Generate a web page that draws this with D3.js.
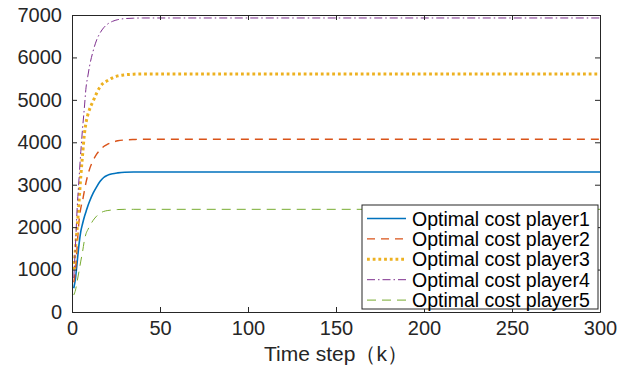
<!DOCTYPE html>
<html>
<head>
<meta charset="utf-8">
<script src="https://cdn.jsdelivr.net/npm/d3@7"></script>
<style>
  body { margin: 0; background: #fff; }
  svg { display: block; font-family: "Liberation Sans", Arial, sans-serif; }
</style>
</head>
<body>
<div id="chart"></div>
<script>
var steps = [1, 2, 3, 4, 5, 6, 7, 8, 9, 10, 12, 14, 16, 18, 20, 23, 26, 30, 35, 40, 50, 300];

var player1 = [560, 800, 1200, 1600, 1900, 2080, 2240, 2370, 2500, 2610, 2800, 2950, 3080, 3170, 3220, 3260, 3280, 3295, 3300, 3300, 3300, 3300];
var player2 = [700, 1000, 1600, 2150, 2450, 2620, 2850, 3060, 3230, 3370, 3570, 3720, 3820, 3900, 3950, 4000, 4035, 4055, 4065, 4070, 4070, 4070];
var player3 = [1000, 1500, 2010, 2600, 3200, 3700, 4180, 4470, 4650, 4780, 4970, 5160, 5310, 5400, 5450, 5520, 5565, 5590, 5605, 5610, 5610, 5610];
var player4 = [800, 1600, 2500, 3150, 3780, 4330, 4800, 5300, 5560, 5800, 6150, 6410, 6580, 6700, 6780, 6850, 6890, 6915, 6925, 6930, 6930, 6930];
var player5 = [400, 520, 740, 960, 1200, 1420, 1680, 1850, 1940, 2020, 2160, 2260, 2330, 2370, 2390, 2405, 2415, 2420, 2420, 2420, 2420, 2420];

var seriesNames = ["Optimal cost player1", "Optimal cost player2", "Optimal cost player3", "Optimal cost player4", "Optimal cost player5"];
var xTicks = [0, 50, 100, 150, 200, 250, 300];
var yTicks = [0, 1000, 2000, 3000, 4000, 5000, 6000, 7000];

var styles = [
  {color: "#0072BD", width: 1.6, dash: null},
  {color: "#D95319", width: 1.4, dash: "8,6"},
  {color: "#EDB120", width: 3, dash: "2.8,2.9"},
  {color: "#7E2F8E", width: 1, dash: "8,3,1.5,3"},
  {color: "#77AC30", width: 1, dash: "9,6"}
];

var allSeries = [player1, player2, player3, player4, player5];

var W = 632, H = 367;
var margin = {top: 15, right: 32, bottom: 55, left: 72};
var width = W - margin.left - margin.right;
var height = H - margin.top - margin.bottom;

var svg = d3.select("#chart").append("svg")
  .attr("width", W)
  .attr("height", H);

var x = d3.scaleLinear().domain([0, 300]).range([0, width]);
var y = d3.scaleLinear().domain([0, 7000]).range([height, 0]);

var main = svg.append("g")
  .attr("transform", "translate(" + margin.left + "," + margin.top + ")");

var defs = svg.append("defs");
defs.append("clipPath").attr("id", "clip")
  .append("rect").attr("width", width).attr("height", height);

// lines
var line = d3.line()
  .x(function(d) { return x(d[0]); })
  .y(function(d) { return y(d[1]); })
  .curve(d3.curveMonotoneX);

var lines = main.append("g").attr("clip-path", "url(#clip)");
allSeries.forEach(function(vals, i) {
  var pts = steps.map(function(t, j) { return [t, vals[j]]; });
  lines.append("path")
    .datum(pts)
    .attr("fill", "none")
    .attr("stroke", styles[i].color)
    .attr("stroke-width", styles[i].width)
    .attr("stroke-dasharray", styles[i].dash)
    .attr("d", line);
});

// axes (matlab style, ticks inside, box on)
var axisColor = "#262626";
var tickLen = 5;
var fmt = d3.format("d");

var xAxis = d3.axisBottom(x).tickValues(xTicks).tickFormat(fmt).tickSizeInner(-tickLen).tickSizeOuter(0).tickPadding(11);
var gx = main.append("g").attr("transform", "translate(0," + height + ")").call(xAxis);
var xTop = d3.axisTop(x).tickValues(xTicks).tickSizeInner(-tickLen).tickSizeOuter(0).tickFormat("");
var gxt = main.append("g").call(xTop);

var yAxis = d3.axisLeft(y).tickValues(yTicks).tickFormat(fmt).tickSizeInner(-tickLen).tickSizeOuter(0).tickPadding(10);
var gy = main.append("g").call(yAxis);
var yRight = d3.axisRight(y).tickValues(yTicks).tickSizeInner(-tickLen).tickSizeOuter(0).tickFormat("");
var gyr = main.append("g").attr("transform", "translate(" + width + ",0)").call(yRight);

[gx, gxt, gy, gyr].forEach(function(g) {
  g.select(".domain").attr("stroke", axisColor);
  g.selectAll(".tick line").attr("stroke", axisColor);
  g.selectAll(".tick text")
    .attr("fill", axisColor)
    .style("font-size", "20px")
    .style("font-family", "Liberation Sans, Arial, sans-serif");
});
gx.selectAll(".tick text").attr("dy", "0.6em");

// x label
svg.append("text")
  .attr("x", margin.left + width / 2)
  .attr("y", 361)
  .attr("text-anchor", "middle")
  .attr("fill", axisColor)
  .style("font-size", "21px")
  .text("Time step（k）");

// legend
var lx = 362, ly = 205, lw = 236, lh = 104;
var legend = svg.append("g");
legend.append("rect")
  .attr("x", lx).attr("y", ly)
  .attr("width", lw).attr("height", lh)
  .attr("fill", "#fff")
  .attr("stroke", axisColor)
  .attr("stroke-width", 1);

seriesNames.forEach(function(name, i) {
  var cy = ly + 13.5 + i * 20.4;
  legend.append("line")
    .attr("x1", lx + 5).attr("x2", lx + 44)
    .attr("y1", cy).attr("y2", cy)
    .attr("stroke", styles[i].color)
    .attr("stroke-width", styles[i].width)
    .attr("stroke-dasharray", styles[i].dash);
  legend.append("text")
    .attr("x", lx + 50)
    .attr("y", cy)
    .attr("dy", "0.36em")
    .attr("fill", "#000")
    .style("font-size", "19.5px")
    .text(name);
});
</script>
</body>
</html>
